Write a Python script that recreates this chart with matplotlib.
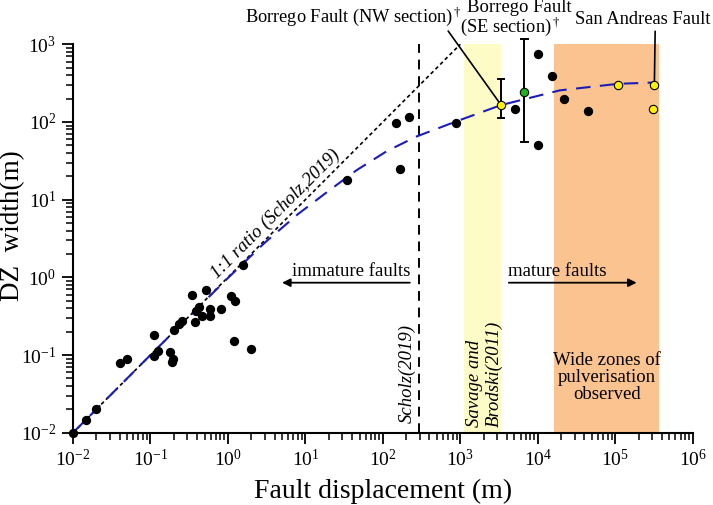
import matplotlib
matplotlib.use('Agg')
import matplotlib.pyplot as plt

plt.rcParams['font.family'] = ['Liberation Serif', 'DejaVu Serif']
plt.rcParams['mathtext.fontset'] = 'custom'
plt.rcParams['mathtext.rm'] = 'Liberation Serif'
plt.rcParams['mathtext.it'] = 'Liberation Serif:italic'

# black points: fault displacement (m), damage zone width (m)
disp_black = [0.01, 0.0147, 0.02, 0.04, 0.05, 0.111, 0.111, 0.126, 0.179, 0.197, 0.19,
              0.2, 0.235, 0.253, 0.343, 0.378, 0.386, 0.427, 0.462, 0.516, 0.586, 0.58,
              0.806, 1.09, 1.22, 1.19, 1.58, 1.96,
              34, 147, 216, 169, 893, 5094, 10200, 10200, 15300, 21800, 44100]
width_black = [0.01, 0.0146, 0.02, 0.08, 0.09, 0.179, 0.098, 0.113, 0.11, 0.09, 0.081,
               0.21, 0.253, 0.276, 0.6, 0.263, 0.364, 0.415, 0.314, 0.687, 0.394, 0.314,
               0.39, 0.567, 0.49, 0.15, 1.45, 0.12,
               17.9, 97, 116, 24.8, 97, 147, 748, 50, 394, 199, 139]

# yellow points (Borrego NW, San Andreas)
disp_yellow = [3365, 1.09e5, 3.2e5, 3.05e5]
width_yellow = [165, 298, 298, 149]

# green point (Borrego SE)
disp_green = [6730]
width_green = [245]

# error bars (lower, upper)
err_x = [3365, 6730]
err_lo = [111, 55]
err_hi = [357, 1170]

# 1:1 ratio line
ratio_x = [0.01, 1000]
ratio_y = [0.01, 1000]

# fitted trend
trend_x = [0.01, 0.1, 1, 3, 8, 20, 46, 112, 272, 893, 3365, 19200, 1.09e5, 3.2e5]
trend_y = [0.01, 0.1, 0.98, 2.8, 6.5, 13, 24, 42, 65, 102, 165, 255, 310, 322]

# shaded ranges
savage_range = [1120, 3310]
pulver_range = [16060, 364000]
scholz_x = 290

fig = plt.figure(figsize=(7.13, 5.05), dpi=100)
ax = fig.add_axes([0.1024, 0.1432, 0.8691, 0.7691])
ax.set_xscale('log')
ax.set_yscale('log')
ax.set_xlim(1e-2, 1e6)
ax.set_ylim(1e-2, 1e3)

ax.axvspan(*savage_range, color='#FDFBC6', lw=0, zorder=0)
ax.axvspan(*pulver_range, color='#FAC38F', lw=0, zorder=0)
ax.axvline(scholz_x, color='black', lw=1.4, ls=(0, (5, 3.5)), zorder=1)

ax.plot(ratio_x, ratio_y, color='black', lw=1.2, ls=(0, (2.2, 1.8)), zorder=2)
ax.plot(trend_x, trend_y, color='#1C1CB8', lw=1.5, ls=(0, (7, 4.5)), zorder=3)

for x, lo, hi in zip(err_x, err_lo, err_hi):
    ax.plot([x, x], [lo, hi], color='black', lw=1.4, zorder=4, clip_on=False)
    ax.plot([x / 1.1, x * 1.1], [lo, lo], color='black', lw=1.4, zorder=4, clip_on=False)
    ax.plot([x / 1.1, x * 1.1], [hi, hi], color='black', lw=1.4, zorder=4, clip_on=False)

ax.plot(disp_black, width_black, 'o', color='black', ms=5.7, zorder=5, clip_on=False)
ax.plot(disp_yellow, width_yellow, 'o', mfc='#FFF200', mec='black', mew=0.8, ms=6, zorder=6)
ax.plot(disp_green, width_green, 'o', mfc='#22B022', mec='black', mew=0.8, ms=6, zorder=6)

ax.spines['top'].set_visible(False)
ax.spines['right'].set_visible(False)
ax.spines['left'].set_linewidth(1.5)
ax.spines['bottom'].set_linewidth(1.5)
ax.tick_params(which='major', direction='out', length=8, width=1.3, labelsize=14, pad=4)
ax.tick_params(which='minor', direction='out', length=5, width=1.1)

ax.set_xlabel('Fault displacement (m)', fontsize=20, labelpad=6)
ax.set_ylabel('DZ  width(m)', fontsize=19.5)
ax.yaxis.set_label_coords(-0.078, 0.532)

# in-plot labels
ax.text(4.1, 6.6, '1:1 ratio (Scholz,2019)', rotation=45, style='italic', fontsize=13.5,
        ha='center', va='center', rotation_mode='anchor')
ax.text(38.6, 1.2, 'immature faults', fontsize=13.5, ha='center', va='center')
ax.annotate('', xy=(5.0, 0.853), xytext=(223, 0.853),
            arrowprops=dict(arrowstyle='-|>', color='black', lw=1.3, mutation_scale=12,
                            shrinkA=0, shrinkB=0))
ax.text(17600, 1.2, 'mature faults', fontsize=13.5, ha='center', va='center')
ax.annotate('', xy=(1.89e5, 0.853), xytext=(4230, 0.853),
            arrowprops=dict(arrowstyle='-|>', color='black', lw=1.3, mutation_scale=12,
                            shrinkA=0, shrinkB=0))
ax.text(204, 0.0135, 'Scholz(2019)', rotation=90, style='italic', fontsize=13.5,
        ha='center', va='bottom')
ax.text(2060, 0.0119, 'Savage and\nBrodski(2011)', rotation=90, style='italic', fontsize=13.5,
        ha='center', va='bottom', multialignment='left', linespacing=1.15)
ax.text(7.76e4, 0.051, 'Wide zones of\npulverisation\nobserved', fontsize=13.5,
        ha='center', va='center', linespacing=1.02)

# top labels with leader lines
ax.annotate('Borrego Fault (NW section)$^\\dagger$', xy=(3365, 165), xycoords='data',
            xytext=(353, 505 - 17), textcoords='figure pixels', ha='center', va='center',
            fontsize=13.2,
            arrowprops=dict(arrowstyle='-', color='black', lw=1.2, relpos=(0.93, 0.0),
                            shrinkA=0, shrinkB=3))
ax.text(519, 505 - 8, 'Borrego Fault', transform=None,
        fontsize=13.5, ha='center', va='center')
ax.text(510, 505 - 27, '(SE section)$^\\dagger$', transform=None,
        fontsize=13.2, ha='center', va='center')
ax.annotate('San Andreas Fault', xy=(3.2e5, 298), xycoords='data',
            xytext=(643, 505 - 20), textcoords='figure pixels', ha='center', va='center',
            fontsize=13.3,
            arrowprops=dict(arrowstyle='-', color='black', lw=1.2, relpos=(0.59, 0.0),
                            shrinkA=0, shrinkB=3))

fig.savefig('out.png', dpi=100)
